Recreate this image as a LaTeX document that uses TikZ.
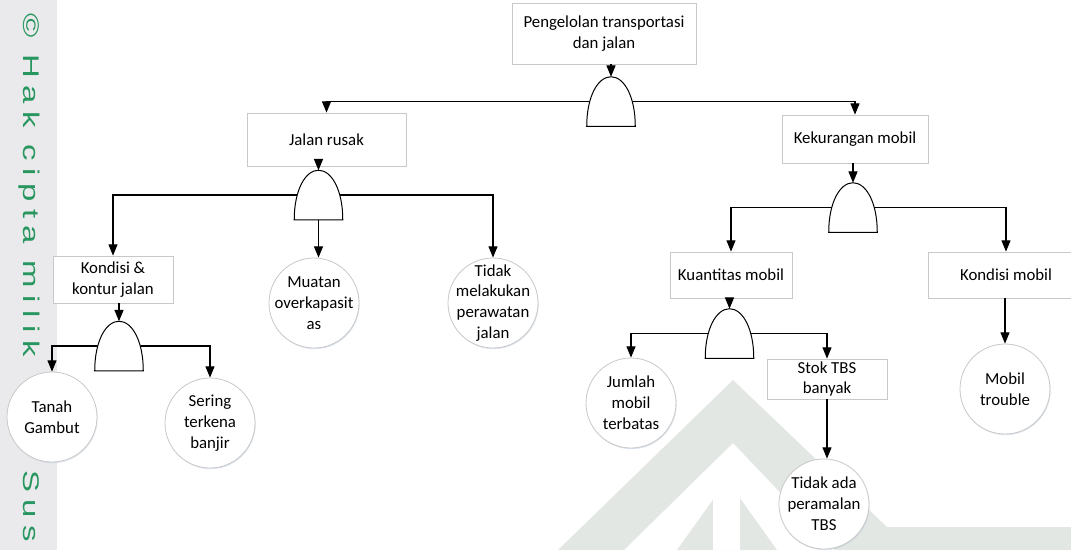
\documentclass[tikz,border=0pt]{standalone}
\usepackage{fontspec}
\setmainfont{Carlito}
\newfontfamily\wmfont[LetterSpace=23]{Liberation Sans}
\usepackage{xcolor}
\usepackage{tikz}
\usetikzlibrary{arrows.meta,shadows}

\newcommand{\andgate}[1]{%
  \draw [line width=0.75, fill=white] (#1.south west) .. controls +(0,-30) and +(-13,0) .. (#1.north) .. controls +(13,0) and +(0,-30) .. (#1.south east) -- cycle ;}

\begin{document}
\begin{tikzpicture}[x=0.75pt,y=0.75pt,yscale=-1,xscale=1,
    box/.style={draw={rgb, 255:red, 200; green, 200; blue, 200}, fill=white, line width=0.6, align=center, inner sep=1pt,
      font=\fontsize{12.6}{15.6}\selectfont,
      drop shadow={shadow xshift=0.5pt, shadow yshift=-0.9pt, opacity=0.5, fill={rgb, 255:red, 190; green, 205; blue, 225}}},
    circ/.style={circle, draw={rgb, 255:red, 200; green, 200; blue, 200}, fill=white, line width=0.6, minimum size=67.5pt, inner sep=-10pt, align=center,
      font=\fontsize{12.6}{15.6}\selectfont,
      drop shadow={shadow xshift=0.5pt, shadow yshift=-0.9pt, opacity=0.5, fill={rgb, 255:red, 190; green, 205; blue, 225}}},
    gate/.style={minimum width=36pt, minimum height=36.75pt, inner sep=0pt},
    arr/.style={-{Triangle[length=8.5pt,width=6.8pt]}, line width=0.8},
    wm/.style={rotate=-90, inner sep=0pt, anchor=base west, text={rgb, 255:red, 40; green, 150; blue, 95}, font=\wmfont\fontsize{17}{20}\selectfont},
    wmbg/.style={fill={rgb, 255:red, 227; green, 231; blue, 227}}]

\useasboundingbox (0,0) rectangle (1071,550);
\clip (0,0) rectangle (1071,550);

\fill [color={rgb, 255:red, 234; green, 234; blue, 237}] (0,0) rectangle (57,550);
\node [wm] (wmt) at (23,13) {\scalebox{1.45}[1]{© Hak cipta milik}};
\node [wm] (wms) at (23,470) {\scalebox{1.45}[1]{Sus}};

\fill [wmbg] (558,550) -- (733,380) -- (887,527) -- (1071,527) -- (1071,550) -- (835,550) -- (733,443) -- (624,550) -- cycle ;
\fill [wmbg] (677,550) -- (727,480) -- (777,550) -- cycle ;
\fill [white] (713,470) rectangle (740,550);

\node [box, minimum width=138pt, minimum height=45.75pt] (pt) at (604,33.5) {Pengelolan transportasi\\dan jalan};
\node [box, minimum width=119.25pt, minimum height=39.75pt] (jr) at (326.5,139.5) {Jalan rusak};
\node [box, minimum width=109.5pt, minimum height=36pt] (km) at (855,139) {Kekurangan mobil};
\node [box, minimum width=90pt, minimum height=35.25pt] (kkj) at (113,279.5) {Kondisi \&\\kontur jalan};
\node [box, minimum width=91.5pt, minimum height=34.5pt] (kuan) at (731,275) {Kuantitas mobil};
\node [box, minimum width=117pt, minimum height=34.5pt] (kmob) at (1006,275) {Kondisi mobil};
\node [box, minimum width=90pt, minimum height=30pt] (stok) at (827,379) {Stok TBS\\banyak};

\node [circ] (tg) at (52,417) {Tanah\\Gambut};
\node [circ] (stb) at (210,423) {Sering\\terkena\\banjir};
\node [circ] (mo) at (314,303) {Muatan\\overkapasit\\as};
\node [circ] (tmp) at (493,303) {Tidak\\melakukan\\perawatan\\jalan};
\node [circ] (jmt) at (631,403) {Jumlah\\mobil\\terbatas};
\node [circ] (tap) at (824,504) {Tidak ada\\peramalan\\TBS};
\node [circ] (mt) at (1005,389) {Mobil\\trouble};

\node [gate] (g1) at (611,101.5) {};
\node [gate] (g2) at (318.5,195) {};
\node [gate] (g3) at (853,207.5) {};
\node [gate] (g4) at (119,346) {};
\node [gate] (g5) at (729.5,333.5) {};

\draw [arr] (g1.center) -| (jr);
\draw [arr] (g1.center) -| (km);
\draw [arr] (g2.center) -| (kkj);
\draw [arr] (g2.center) -| (tmp);
\draw [arr] (g2.south) -- (g2.south |- mo.north);
\draw [arr] (g3.center) -| (kuan);
\draw [arr] (g3.center) -| (kmob);
\draw [arr] (g4.center) -| (tg);
\draw [arr] (g4.center) -| (stb);
\draw [arr] (g5.center) -| (jmt);
\draw [arr] (g5.center) -| (stok);
\draw [arr] (stok.south) -- (stok.south |- tap.north);
\draw [arr] (kmob.south -| mt.north) -- (mt.north);

\andgate{g1}
\andgate{g2}
\andgate{g3}
\andgate{g4}
\andgate{g5}

\draw [arr] (pt.south -| g1.north) -- (g1.north);
\draw [arr] (jr.south -| g2.north) -- (g2.north);
\draw [arr] (km.south -| g3.north) -- (g3.north);
\draw [arr] (kkj.south -| g4.north) -- (g4.north);
\draw [arr] (kuan.south -| g5.north) -- (g5.north);

\end{tikzpicture}
\end{document}
